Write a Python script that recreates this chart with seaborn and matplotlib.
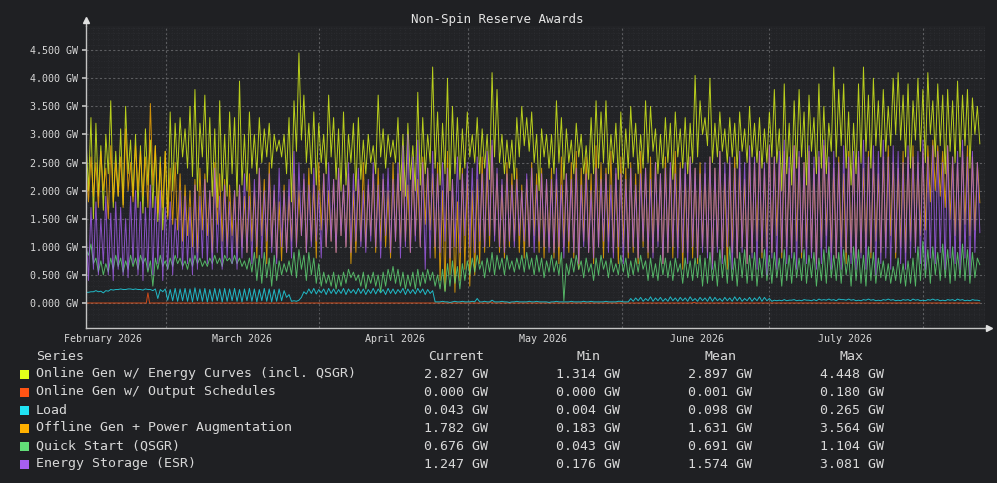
import numpy as np
import pandas as pd
import seaborn as sns
import matplotlib.pyplot as plt
import matplotlib.dates as mdates
from matplotlib.patches import Rectangle
from matplotlib.ticker import MultipleLocator

# values, in hundredths of a GW, two samples a day
online_energy = [
    295, 200, 330, 150, 320, 190, 280, 165, 300, 230, 360, 170, 270, 190, 310, 175, 350, 230, 290, 190,
    300, 170, 280, 160, 310, 210, 290, 170, 280, 145, 260, 130, 270, 155, 340, 200, 320, 230, 330, 260,
    310, 240, 350, 225, 380, 200, 320, 260, 370, 215, 330, 190, 310, 170, 360, 200, 300, 190, 340, 230,
    330, 190, 395, 210, 300, 200, 340, 240, 300, 230, 330, 250, 310, 260, 320, 240, 300, 270, 290, 260,
    300, 230, 330, 180, 360, 270, 445, 290, 370, 250, 320, 230, 340, 210, 320, 250, 300, 230, 370, 260,
    330, 220, 310, 200, 340, 210, 300, 250, 320, 200, 330, 220, 290, 230, 300, 250, 280, 230, 370, 260,
    310, 240, 300, 260, 290, 250, 330, 200, 300, 190, 320, 220, 280, 200, 375, 210, 330, 230, 300, 250,
    420, 240, 340, 210, 320, 230, 400, 200, 350, 230, 330, 220, 310, 240, 340, 260, 300, 250, 330, 230,
    310, 240, 300, 220, 410, 260, 380, 250, 300, 230, 290, 240, 290, 220, 330, 260, 350, 280, 330, 270,
    340, 250, 300, 200, 310, 260, 300, 240, 300, 230, 360, 250, 330, 220, 310, 250, 290, 230, 320, 260,
    300, 230, 280, 220, 330, 230, 360, 240, 340, 250, 360, 230, 300, 250, 320, 220, 340, 230, 310, 240,
    350, 260, 320, 230, 300, 240, 360, 250, 350, 270, 310, 230, 300, 240, 330, 250, 320, 220, 340, 260,
    310, 240, 330, 230, 320, 250, 405, 260, 360, 300, 330, 280, 400, 250, 320, 260, 340, 270, 310, 250,
    330, 260, 320, 240, 340, 270, 310, 250, 350, 260, 320, 250, 330, 240, 310, 250, 340, 260, 380, 250,
    310, 200, 390, 230, 320, 210, 360, 240, 380, 260, 340, 210, 370, 270, 330, 230, 390, 240, 350, 230,
    320, 270, 420, 260, 380, 280, 390, 240, 340, 210, 320, 230, 390, 250, 420, 270, 370, 240, 400, 280,
    360, 260, 380, 270, 350, 280, 400, 300, 410, 290, 370, 260, 390, 240, 360, 290, 400, 270, 380, 250,
    410, 300, 360, 260, 390, 280, 370, 230, 380, 270, 360, 250, 395, 260, 370, 280, 380, 240, 365, 300,
    350, 283,
]

offline_aug = [
    240, 180, 260, 190, 250, 170, 270, 200, 240, 150, 280, 180, 250, 190, 260, 170, 310, 200, 250, 180,
    280, 200, 270, 190, 260, 170, 355, 210, 280, 160, 250, 170, 270, 150, 240, 140, 250, 130, 230, 110,
    210, 120, 200, 100, 220, 90, 240, 130, 230, 120, 200, 90, 250, 140, 230, 110, 220, 100, 210, 120,
    200, 90, 210, 100, 190, 90, 230, 110, 200, 80, 240, 120, 220, 70, 250, 100, 200, 80, 180, 75,
    210, 90, 190, 110, 230, 100, 200, 120, 220, 90, 240, 110, 210, 80, 250, 130, 230, 100, 200, 110,
    220, 90, 240, 120, 210, 100, 230, 70, 200, 90, 220, 110, 250, 100, 210, 120, 230, 90, 240, 110,
    220, 100, 200, 80, 250, 110, 230, 100, 250, 110, 210, 90, 240, 120, 220, 100, 260, 140, 240, 130,
    230, 80, 250, 40, 200, 22, 270, 50, 220, 19, 180, 40, 240, 60, 230, 30, 200, 50, 220, 70,
    260, 90, 240, 100, 280, 120, 230, 90, 210, 80, 250, 100, 230, 110, 240, 90, 210, 80, 220, 100,
    250, 120, 230, 90, 240, 80, 220, 100, 240, 80, 220, 70, 260, 100, 230, 90, 250, 80, 270, 60,
    240, 110, 260, 90, 230, 70, 280, 100, 250, 80, 240, 110, 270, 90, 230, 70, 260, 100, 240, 80,
    250, 90, 230, 70, 270, 100, 240, 80, 260, 90, 250, 110, 230, 70, 260, 90, 240, 80, 270, 100,
    250, 60, 230, 90, 260, 80, 240, 70, 250, 100, 230, 90, 260, 70, 240, 100, 270, 80, 230, 60,
    250, 90, 260, 80, 240, 100, 220, 70, 260, 90, 250, 110, 270, 80, 240, 100, 280, 90, 260, 120,
    250, 80, 270, 100, 240, 90, 280, 110, 260, 80, 250, 100, 270, 90, 240, 70, 260, 100, 280, 120,
    250, 90, 240, 80, 260, 100, 230, 70, 270, 90, 250, 80, 260, 90, 240, 100, 270, 80, 250, 110,
    230, 90, 260, 100, 280, 120, 250, 80, 240, 100, 270, 90, 260, 110, 280, 100, 250, 120, 270, 130,
    280, 180, 290, 200, 280, 190, 270, 170, 280, 150, 260, 120, 250, 110, 270, 140, 280, 120, 260, 130,
    250, 178,
]

energy_storage = [
    130, 40, 170, 60, 180, 50, 150, 70, 190, 50, 160, 40, 180, 60, 170, 50, 150, 45, 190, 70,
    200, 50, 180, 40, 170, 60, 210, 50, 190, 70, 200, 40, 170, 60, 180, 50, 150, 80, 200, 60,
    190, 70, 170, 50, 210, 60, 190, 80, 220, 70, 200, 60, 240, 90, 190, 60, 210, 80, 180, 70,
    200, 60, 210, 80, 230, 90, 190, 70, 220, 100, 240, 80, 200, 110, 230, 90, 210, 70, 240, 100,
    200, 90, 220, 80, 270, 100, 250, 120, 230, 90, 210, 100, 240, 110, 200, 80, 230, 100, 250, 110,
    220, 90, 240, 120, 210, 100, 250, 90, 230, 110, 240, 100, 200, 90, 220, 110, 250, 100, 210, 80,
    230, 120, 240, 90, 220, 110, 250, 80, 280, 100, 300, 90, 260, 110, 290, 100, 250, 60, 240, 80,
    270, 100, 230, 90, 250, 110, 240, 80, 220, 100, 260, 90, 230, 120, 250, 100, 240, 90, 260, 110,
    230, 100, 270, 120, 290, 110, 240, 100, 220, 90, 230, 110, 210, 100, 220, 120, 200, 110, 230, 100,
    240, 90, 210, 110, 230, 100, 220, 90, 220, 90, 240, 100, 210, 80, 230, 110, 220, 90, 240, 70,
    210, 100, 230, 90, 200, 80, 240, 100, 220, 110, 230, 90, 210, 80, 240, 100, 230, 70, 220, 90,
    240, 100, 210, 80, 230, 110, 240, 90, 220, 80, 250, 100, 230, 70, 240, 90, 250, 100, 230, 80,
    240, 90, 250, 70, 260, 100, 240, 80, 230, 90, 250, 80, 260, 60, 240, 90, 270, 70, 250, 100,
    260, 60, 240, 80, 270, 90, 250, 70, 280, 80, 260, 60, 270, 90, 250, 50, 280, 80, 260, 60,
    270, 90, 290, 70, 260, 80, 280, 60, 270, 90, 250, 70, 280, 80, 260, 60, 270, 70, 290, 90,
    260, 60, 270, 80, 250, 60, 280, 90, 260, 70, 270, 60, 270, 80, 290, 60, 260, 90, 280, 50,
    270, 70, 290, 80, 260, 60, 280, 90, 270, 70, 250, 60, 280, 80, 260, 90, 270, 70, 290, 60,
    260, 80, 280, 70, 270, 90, 250, 60, 280, 80, 260, 70, 270, 60, 290, 80, 260, 50, 270, 90,
    250, 125,
]

quick_start = [
    95, 85, 105, 70, 80, 55, 75, 50, 70, 55, 80, 60, 85, 65, 80, 55, 75, 60, 85, 65,
    80, 60, 85, 70, 80, 55, 75, 30, 80, 60, 85, 65, 75, 60, 80, 65, 85, 70, 80, 65,
    75, 60, 80, 65, 85, 70, 80, 65, 75, 65, 80, 70, 85, 70, 80, 65, 85, 75, 80, 70,
    85, 70, 80, 65, 75, 60, 80, 55, 90, 40, 85, 35, 90, 45, 80, 30, 85, 40, 75, 50,
    70, 55, 75, 50, 90, 45, 95, 60, 85, 40, 90, 50, 80, 35, 70, 30, 55, 35, 50, 30,
    55, 25, 50, 30, 55, 35, 60, 45, 55, 40, 50, 30, 55, 25, 50, 35, 55, 30, 50, 20,
    55, 30, 60, 40, 65, 35, 60, 30, 55, 25, 50, 30, 55, 25, 60, 30, 55, 35, 60, 40,
    55, 30, 50, 25, 60, 20, 70, 30, 75, 35, 65, 25, 70, 40, 75, 50, 80, 55, 85, 60,
    75, 45, 80, 55, 90, 50, 85, 60, 80, 50, 85, 60, 75, 55, 80, 60, 85, 55, 90, 60,
    80, 50, 85, 55, 80, 45, 75, 55, 85, 55, 75, 50, 90, 4, 70, 50, 80, 55, 85, 60,
    75, 45, 80, 55, 70, 40, 80, 50, 85, 60, 75, 45, 80, 55, 70, 50, 85, 55, 80, 45,
    75, 50, 80, 55, 85, 60, 75, 40, 80, 45, 70, 40, 85, 50, 80, 45, 75, 40, 80, 55,
    70, 35, 80, 45, 75, 40, 80, 45, 85, 30, 80, 35, 90, 40, 75, 30, 95, 45, 85, 35,
    100, 40, 80, 30, 90, 45, 95, 35, 85, 40, 90, 30, 80, 45, 95, 40, 85, 35, 90, 45,
    80, 30, 95, 40, 85, 35, 90, 45, 80, 40, 95, 35, 85, 45, 90, 30, 80, 40, 95, 35,
    100, 45, 85, 40, 90, 35, 95, 50, 85, 30, 100, 40, 95, 35, 85, 30, 100, 40, 90, 35,
    80, 45, 75, 40, 70, 35, 65, 40, 80, 35, 70, 30, 75, 35, 80, 30, 100, 40, 110, 45,
    95, 35, 100, 50, 90, 40, 105, 45, 95, 35, 100, 40, 90, 45, 105, 40, 95, 35, 90, 45,
    80, 68,
]

load = [
    19, 19, 20, 20, 22, 20, 21, 18, 22, 21, 24, 23, 24, 24, 25, 24, 24, 25, 25, 24,
    25, 24, 24, 23, 25, 24, 24, 22, 25, 8, 24, 20, 25, 5, 24, 4, 26, 3, 25, 4,
    26, 3, 25, 2, 27, 4, 25, 3, 26, 2, 24, 3, 26, 4, 25, 2, 26, 3, 25, 4,
    26, 3, 24, 2, 25, 4, 26, 3, 25, 2, 24, 4, 26, 3, 25, 2, 24, 3, 25, 4,
    22, 10, 15, 3, 4, 3, 5, 10, 20, 16, 25, 17, 26, 16, 24, 18, 25, 15, 26, 17,
    25, 16, 24, 17, 26, 15, 25, 18, 24, 16, 26, 17, 25, 15, 24, 17, 26, 16, 25, 18,
    24, 15, 26, 17, 25, 16, 24, 18, 26, 15, 25, 17, 24, 16, 26, 18, 25, 15, 24, 17,
    22, 2, 2, 2, 3, 2, 2, 1, 2, 3, 2, 2, 3, 2, 2, 2, 3, 2, 8, 2,
    2, 3, 2, 2, 5, 2, 2, 2, 3, 2, 2, 1, 2, 2, 3, 2, 2, 2, 2, 3,
    2, 2, 3, 2, 2, 2, 2, 1, 2, 2, 3, 2, 2, 2, 2, 2, 3, 2, 2, 2,
    2, 3, 2, 2, 3, 2, 2, 2, 2, 2, 3, 2, 2, 2, 2, 3, 3, 2, 2, 2,
    8, 3, 9, 4, 10, 3, 8, 4, 11, 3, 9, 4, 10, 3, 8, 3, 11, 4, 9, 3,
    10, 4, 9, 3, 11, 4, 8, 3, 10, 4, 9, 3, 11, 3, 10, 4, 8, 3, 10, 4,
    9, 3, 11, 4, 10, 3, 8, 4, 10, 3, 9, 4, 11, 3, 10, 4, 8, 3, 5, 4,
    5, 4, 6, 4, 5, 5, 6, 4, 5, 4, 6, 5, 5, 4, 6, 4, 7, 5, 6, 5,
    7, 5, 6, 4, 7, 6, 6, 5, 7, 5, 6, 4, 5, 4, 6, 5, 7, 5, 6, 4,
    5, 4, 6, 5, 7, 5, 6, 4, 5, 4, 6, 5, 6, 4, 7, 5, 6, 4, 5, 4,
    6, 5, 7, 5, 6, 4, 5, 4, 6, 5, 6, 4, 7, 5, 6, 4, 5, 4, 6, 5,
    5, 4,
]

# output schedules: flat zero apart from a few short bumps
sched_times = ["2026-01-28 13:40", "2026-02-09 18:00", "2026-02-10 02:00", "2026-02-10 10:00",
               "2026-04-20 00:00", "2026-04-20 10:00", "2026-04-20 20:00",
               "2026-05-31 00:00", "2026-05-31 10:00", "2026-05-31 20:00", "2026-07-28 04:00"]
sched_vals = [0, 0, 18, 0, 0, 2, 0, 0, 1, 0, 0]

start, end = "2026-01-28 13:40", "2026-07-28 04:00"

series = ["Online Gen w/ Energy Curves (incl. QSGR)", "Online Gen w/ Output Schedules", "Load",
          "Offline Gen + Power Augmentation", "Quick Start (QSGR)", "Energy Storage (ESR)"]
colors = ["#e4ff1a", "#ff5414", "#20e2f2", "#ffb000", "#62de78", "#a75ff2"]
current = ["2.827 GW", "0.000 GW", "0.043 GW", "1.782 GW", "0.676 GW", "1.247 GW"]
mins = ["1.314 GW", "0.000 GW", "0.004 GW", "0.183 GW", "0.043 GW", "0.176 GW"]
means = ["2.897 GW", "0.001 GW", "0.098 GW", "1.631 GW", "0.691 GW", "1.574 GW"]
maxs = ["4.448 GW", "0.180 GW", "0.265 GW", "3.564 GW", "1.104 GW", "3.081 GW"]

BG = "#1f2023"
PLOT_BG = "#222326"
TXT = "#d8d8d8"

W, H = 997, 483


def px(x, y):
    return x / W, 1 - y / H


frames = []
for name, vals in [(series[0], online_energy), (series[2], load), (series[3], offline_aug),
                   (series[4], quick_start), (series[5], energy_storage)]:
    t = pd.date_range(start, end, periods=len(vals))
    frames.append(pd.DataFrame({"time": t, "GW": np.array(vals) / 100, "series": name}))
frames.append(pd.DataFrame({"time": pd.to_datetime(sched_times),
                            "GW": np.array(sched_vals) / 100, "series": series[1]}))
df = pd.concat(frames, ignore_index=True)

sns.set_theme(style="dark")
plt.rcParams["font.family"] = ["DejaVu Sans Mono"]

fig = plt.figure(figsize=(W / 100, H / 100), dpi=100, facecolor=BG)
ax = fig.add_axes([86 / W, 1 - 328 / H, 899 / W, 302 / H])
ax.set_facecolor(PLOT_BG)

sns.lineplot(data=df, x="time", y="GW", hue="series", hue_order=series, palette=colors,
             estimator=None, lw=0.7, alpha=0.78, legend=False, ax=ax)

ax.set_xlim(pd.Timestamp(start), pd.Timestamp("2026-07-29 05:00"))
ax.set_ylim(-0.445, 4.93)
ax.set_xlabel("")
ax.set_ylabel("")

# grid: faint minor texture plus dotted major lines
ax.yaxis.set_major_locator(MultipleLocator(0.5))
ax.yaxis.set_minor_locator(MultipleLocator(0.1))
ax.xaxis.set_minor_locator(mdates.DayLocator())
ax.grid(which="minor", color="#2d2e32", lw=0.6, ls=(0, (1, 2)))
ax.grid(which="major", axis="y", color="#5c5d60", lw=0.8, ls=(0, (2, 2)))
for d in ["2026-02-13 17:00", "2026-03-16 14:00", "2026-04-15 17:00",
          "2026-05-16 19:00", "2026-06-15 12:00", "2026-07-16 17:00"]:
    ax.axvline(pd.Timestamp(d), color="#5c5d60", lw=0.8, ls=(0, (2, 2)), zorder=0.5)

yt = np.arange(0, 4.51, 0.5)
ax.set_yticks(yt)
ax.set_yticklabels([f"{v:.3f} GW" for v in yt])
ax.xaxis.set_major_locator(mdates.MonthLocator())
ax.xaxis.set_major_formatter(mdates.DateFormatter("%B %Y"))
ax.tick_params(axis="y", which="major", length=3, color="#bbbbbb", labelsize=7.2,
               labelcolor=TXT, pad=3, left=True)
ax.tick_params(axis="x", which="major", length=0, labelsize=7.2, labelcolor=TXT, pad=4)
ax.tick_params(which="minor", length=0)

for s in ["top", "right"]:
    ax.spines[s].set_visible(False)
for s in ["left", "bottom"]:
    ax.spines[s].set_color("#c4c4c4")
    ax.spines[s].set_linewidth(1.0)

# axis arrows
ax.plot([0, 0], [1, 1.02], transform=ax.transAxes, color="#c4c4c4", lw=1, clip_on=False)
ax.plot([0], [1.02], marker="^", ms=5, color="#e0e0e0", transform=ax.transAxes, clip_on=False)
ax.plot([1, 1.005], [0, 0], transform=ax.transAxes, color="#c4c4c4", lw=1, clip_on=False)
ax.plot([1.005], [0], marker=">", ms=5, color="#e0e0e0", transform=ax.transAxes, clip_on=False)

fig.text(*px(497, 19), "Non-Spin Reserve Awards", ha="center", va="center",
         fontsize=9, color="#e4e4e4")

# legend table
fs = 9.5
fig.text(*px(36, 356), "Series", ha="left", va="center", fontsize=fs, color=TXT)
col_x = [456, 588, 720, 852]
for cx, head in zip(col_x, ["Current", "Min", "Mean", "Max"]):
    fig.text(*px(cx, 356), head, ha="center", va="center", fontsize=fs, color=TXT)
for i, name in enumerate(series):
    y = 374 + 18 * i
    fig.patches.append(Rectangle(px(20, y + 4.5), 9 / W, 9 / H, transform=fig.transFigure,
                                 facecolor=colors[i], edgecolor="none"))
    fig.text(*px(36, y), name, ha="left", va="center", fontsize=fs, color=TXT)
    for cx, val in zip(col_x, [current[i], mins[i], means[i], maxs[i]]):
        fig.text(*px(cx, y), val, ha="center", va="center", fontsize=fs, color=TXT)

fig.savefig("out.png", dpi=100, facecolor=BG)
